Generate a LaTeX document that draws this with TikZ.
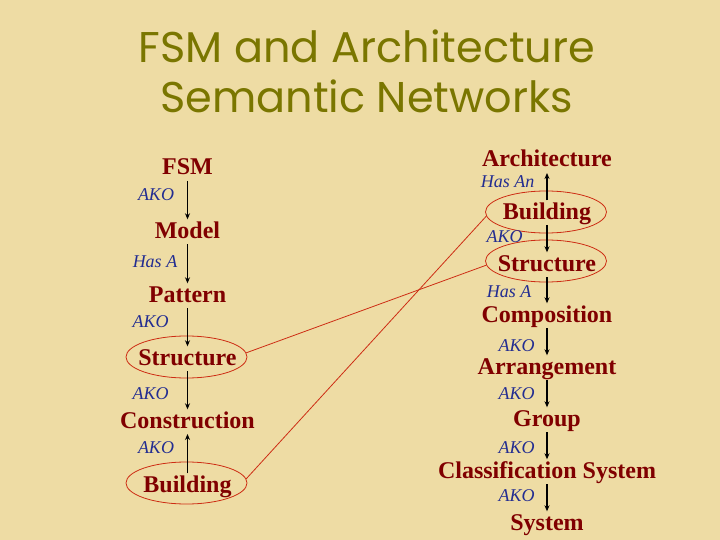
\documentclass[tikz,border=0pt]{standalone}
\usepackage{fontspec}
\setmainfont{Liberation Serif}
\newfontfamily\titlefont{Poppins}
\usetikzlibrary{positioning}
\usetikzlibrary{shapes,arrows.meta}
\definecolor{drkred}{RGB}{128,0,0}
\definecolor{akoblue}{RGB}{35,45,145}
\definecolor{parchment}{RGB}{238,220,164}
\definecolor{titleolive}{RGB}{122,118,0}
\definecolor{ringred}{RGB}{205,45,20}

\begin{document}
\begin{tikzpicture}[x=1pt,y=-1pt,
    concept/.style={text=drkred,font=\fontsize{24}{27}\selectfont\bfseries,
      text height=17.5pt,text depth=4.8pt,inner sep=1pt,anchor=base},
    rel/.style={text=akoblue,font=\fontsize{18}{21}\selectfont\itshape,
      inner sep=0pt,anchor=base},
    ring/.style={draw=ringred,ellipse,minimum width=121pt,minimum height=42pt,
      inner sep=0pt,line width=0.8pt},
    link/.style={-{Stealth[length=6pt,width=5pt]},line width=1.4pt,black},
    tie/.style={ringred,line width=0.8pt},
    heading/.style={font=\titlefont\fontsize{43}{46}\selectfont,anchor=base,
      text=titleolive}]
     \useasboundingbox (0,0) rectangle (720,540);
     \fill [parchment] (0,0) rectangle (720,540);

     % title
     \node [heading] (titleA) at (367,63){FSM and Architecture};
     \node [heading] (titleB) at (366.5,113){Semantic Networks};

     % rings and the ties between the two networks
     \node [ring] (lstructring) at (186.5,357){};
     \node [ring] (lbuildring) at (186.5,483){};
     \node [ring] (rbuildring) at (546,212){};
     \node [ring] (rstructring) at (546,261){};
     \draw [tie] (lstructring.4) -- (rstructring.184);
     \draw [tie] (lbuildring.4) -- (rbuildring.184);

     % FSM network
     \node [concept] (fsm) at (187.5,175){FSM};
     \node [concept] (model) at (187.5,238){Model};
     \node [concept] (pattern) at (187.5,302){Pattern};
     \node [concept] (lstruct) at (187.5,365){Structure};
     \node [concept] (cons) at (187.5,428){Construction};
     \node [concept] (lbuild) at (187.5,492){Building};

     \draw [link] (fsm) -- (model);
     \draw [link] (model) -- (pattern);
     \draw [link] (pattern) -- (lstruct);
     \draw [link] (lstruct) -- (cons);
     \draw [link] (lbuild) -- (cons);

     \node [rel] (rel1) at (156,201){AKO};
     \node [rel] (rel2) at (155,267){Has A};
     \node [rel] (rel3) at (150.5,327){AKO};
     \node [rel] (rel4) at (150.5,399){AKO};
     \node [rel] (rel5) at (156,453){AKO};

     % Architecture network
     \node [concept] (arch) at (547,167){Architecture};
     \node [concept] (rbuild) at (547,219){Building};
     \node [concept] (rstruct) at (547,271){Structure};
     \node [concept] (comp) at (547,322){Composition};
     \node [concept] (arr) at (547,374){Arrangement};
     \node [concept] (group) at (547,426){Group};
     \node [concept] (classsys) at (547,478){Classification System};
     \node [concept] (sys) at (547,530){System};

     \draw [link] (rbuild) -- (arch);
     \draw [link] (rbuild) -- (rstruct);
     \draw [link] (rstruct) -- (comp);
     \draw [link] (comp) -- (arr);
     \draw [link] (arr) -- (group);
     \draw [link] (group) -- (classsys);
     \draw [link] (classsys) -- (sys);

     \node [rel] (rel6) at (507.5,188){Has An};
     \node [rel] (rel7) at (504.5,243){AKO};
     \node [rel] (rel8) at (509,297){Has A};
     \node [rel] (rel9) at (516.5,351){AKO};
     \node [rel] (rel10) at (516.5,399){AKO};
     \node [rel] (rel11) at (516.5,453){AKO};
     \node [rel] (rel12) at (516.5,501){AKO};
\end{tikzpicture}
\end{document}
